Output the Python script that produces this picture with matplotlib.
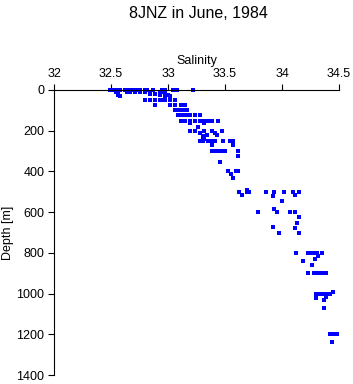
import numpy as np
import matplotlib
matplotlib.use("Agg")
import matplotlib.pyplot as plt

plt.rcParams['font.family'] = ['Liberation Sans', 'DejaVu Sans']

# salinity / depth pairs, grouped by depth level
sal_0 = [32.49, 32.52, 32.54, 32.55, 32.58, 32.62, 32.64, 32.67, 32.69, 32.71,
         32.73, 32.75, 32.80, 32.82, 32.87, 32.95, 32.97, 33.04, 33.08, 33.22]
dep_0 = [0] * len(sal_0)

sal_10 = [32.54, 32.56, 32.64, 32.67, 32.71, 32.75, 32.80, 32.84, 32.93, 32.96, 32.97]
dep_10 = [10] * len(sal_10)

sal_30 = [32.56, 32.58, 32.84, 32.89, 32.93, 32.97, 33.00, 33.02]
dep_30 = [25, 30, 20, 20, 25, 30, 25, 30]

sal_50 = [32.80, 32.84, 32.89, 32.93, 32.96, 32.97, 33.02, 33.06]
dep_50 = [50] * len(sal_50)

sal_75 = [32.89, 33.02, 33.06, 33.11, 33.15]
dep_75 = [75] * len(sal_75)

sal_100 = [33.06, 33.09, 33.11, 33.13, 33.17]
dep_100 = [100] * len(sal_100)

sal_125 = [33.09, 33.11, 33.13, 33.17, 33.19, 33.24, 33.28]
dep_125 = [125] * len(sal_125)

sal_150 = [33.11, 33.15, 33.19, 33.24, 33.28, 33.32, 33.35, 33.39, 33.44, 33.19, 33.32, 33.26]
dep_150 = [150, 150, 150, 150, 150, 150, 150, 150, 150, 162, 162, 182]

sal_200 = [33.19, 33.24, 33.32, 33.39, 33.47, 33.28, 33.41, 33.34, 33.43, 33.31, 33.32, 33.31]
dep_200 = [200, 200, 200, 200, 200, 211, 211, 221, 221, 241, 241, 226]

sal_250 = [33.28, 33.31, 33.35, 33.39, 33.41, 33.48, 33.54, 33.57, 33.39, 33.57]
dep_250 = [250, 250, 250, 250, 250, 250, 250, 250, 270, 270]

sal_300 = [33.39, 33.41, 33.44, 33.47, 33.50, 33.61, 33.61, 33.46]
dep_300 = [300, 300, 300, 300, 300, 300, 324, 354]

sal_400 = [33.53, 33.60, 33.61, 33.55, 33.57]
dep_400 = [400, 400, 400, 413, 432]

sal_500 = [33.62, 33.69, 33.71, 33.86, 33.93, 34.02, 34.10, 34.15, 33.69,
           33.65, 34.11, 33.92, 34.00]
dep_500 = [500, 500, 500, 500, 500, 500, 500, 500, 490, 516, 516, 521, 545]

sal_600 = [33.79, 33.96, 34.07, 34.11, 33.93, 34.15, 34.13, 33.92, 34.11]
dep_600 = [600, 600, 600, 600, 585, 624, 653, 673, 678]

sal_700 = [33.97, 34.15]
dep_700 = [700, 700]

sal_800 = [34.12, 34.23, 34.26, 34.29, 34.31, 34.35, 34.32, 34.29, 34.18, 34.26]
dep_800 = [800, 800, 800, 800, 800, 800, 815, 830, 840, 860]

sal_900 = [34.23, 34.28, 34.32, 34.35, 34.38, 34.39]
dep_900 = [900] * len(sal_900)

sal_1000 = [34.30, 34.33, 34.36, 34.39, 34.42, 34.45, 34.39, 34.30, 34.37, 34.37]
dep_1000 = [1000, 1000, 1000, 1000, 1000, 990, 1017, 1022, 1032, 1071]

sal_1200 = [34.42, 34.44, 34.45, 34.47, 34.48, 34.44]
dep_1200 = [1200, 1200, 1200, 1200, 1200, 1238]

salinity = np.concatenate([sal_0, sal_10, sal_30, sal_50, sal_75, sal_100, sal_125,
                           sal_150, sal_200, sal_250, sal_300, sal_400, sal_500,
                           sal_600, sal_700, sal_800, sal_900, sal_1000, sal_1200])
depth = np.concatenate([dep_0, dep_10, dep_30, dep_50, dep_75, dep_100, dep_125,
                        dep_150, dep_200, dep_250, dep_300, dep_400, dep_500,
                        dep_600, dep_700, dep_800, dep_900, dep_1000, dep_1200])

x_ticks = [32, 32.5, 33, 33.5, 34, 34.5]
x_labels = ['32', '32.5', '33', '33.5', '34', '34.5']
y_ticks = [0, 200, 400, 600, 800, 1000, 1200, 1400]

fig = plt.figure(figsize=(3.53, 3.84), dpi=100)
ax = fig.add_axes([54 / 353, 1 - 375 / 384, 285 / 353, 285 / 384])

ax.plot(salinity, depth, 's', color='#0000ff', ms=2.5, mew=0, clip_on=False)

ax.set_xlim(32, 34.5)
ax.set_ylim(1400, 0)
ax.set_xticks(x_ticks)
ax.set_xticklabels(x_labels)
ax.set_yticks(y_ticks)

ax.xaxis.set_ticks_position('top')
ax.xaxis.set_label_position('top')
ax.spines['right'].set_visible(False)
ax.spines['bottom'].set_visible(False)
for s in ['left', 'top']:
    ax.spines[s].set_linewidth(0.8)
ax.tick_params(direction='out', length=4, width=0.8, labelsize=9, pad=3)

ax.set_xlabel('Salinity', fontsize=9, labelpad=3)
ax.set_ylabel('Depth [m]', fontsize=9)
ax.yaxis.set_label_coords(-0.142, 0.5)
fig.text(198 / 353, 1 - 13 / 384, '8JNZ in June, 1984', ha='center', va='center',
         fontsize=11.5)

fig.savefig('out.png', dpi=100)
